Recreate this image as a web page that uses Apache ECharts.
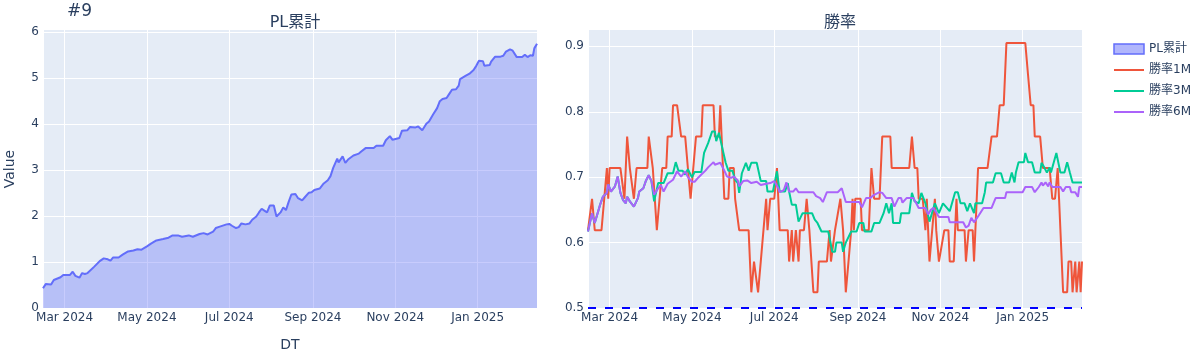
<!DOCTYPE html>
<html>
<head>
<meta charset="utf-8">
<script src="https://cdn.jsdelivr.net/npm/echarts@6/dist/echarts.min.js"></script>
<style>
html,body{margin:0;padding:0;background:#fff;}
#chart{width:1201px;height:360px;}
</style>
</head>
<body>
<div id="chart"></div>
<script>
const monthNames = ['Jan','Feb','Mar','Apr','May','Jun','Jul','Aug','Sep','Oct','Nov','Dec'];
const xRange = ['2024-02-14', '2025-02-14'];

const plCumulative = [
["2024-02-14",0.43],["2024-02-16",0.52],["2024-02-20",0.51],["2024-02-22",0.61],["2024-02-27",0.67],
["2024-02-29",0.72],["2024-03-05",0.72],["2024-03-07",0.79],["2024-03-09",0.70],["2024-03-12",0.66],
["2024-03-14",0.76],["2024-03-16",0.74],["2024-03-18",0.76],["2024-03-19",0.72],["2024-03-23",0.90],
["2024-03-27",1.02],["2024-03-30",1.08],["2024-04-02",1.06],["2024-04-04",1.03],["2024-04-06",1.10],
["2024-04-10",1.10],["2024-04-13",1.16],["2024-04-17",1.23],["2024-04-21",1.25],["2024-04-24",1.28],
["2024-04-27",1.27],["2024-05-01",1.34],["2024-05-04",1.40],["2024-05-08",1.47],["2024-05-13",1.50],
["2024-05-17",1.53],["2024-05-20",1.58],["2024-05-24",1.58],["2024-05-27",1.55],["2024-06-01",1.58],
["2024-06-04",1.55],["2024-06-05",1.57],["2024-06-09",1.61],["2024-06-12",1.63],["2024-06-15",1.60],
["2024-06-19",1.66],["2024-06-21",1.74],["2024-06-24",1.77],["2024-06-29",1.82],["2024-07-01",1.83],
["2024-07-03",1.79],["2024-07-06",1.74],["2024-07-08",1.76],["2024-07-10",1.84],["2024-07-13",1.82],
["2024-07-16",1.84],["2024-07-18",1.92],["2024-07-21",1.99],["2024-07-23",2.08],["2024-07-25",2.16],
["2024-07-27",2.12],["2024-07-29",2.08],["2024-07-31",2.23],["2024-08-03",2.23],["2024-08-05",1.99],
["2024-08-08",2.08],["2024-08-10",2.19],["2024-08-12",2.13],["2024-08-14",2.31],["2024-08-16",2.47],
["2024-08-19",2.48],["2024-08-21",2.39],["2024-08-24",2.34],["2024-08-26",2.41],["2024-08-29",2.51],
["2024-08-31",2.52],["2024-09-02",2.57],["2024-09-06",2.60],["2024-09-09",2.71],["2024-09-12",2.78],
["2024-09-14",2.87],["2024-09-16",3.05],["2024-09-19",3.25],["2024-09-20",3.17],["2024-09-23",3.30],
["2024-09-25",3.16],["2024-09-27",3.23],["2024-10-01",3.32],["2024-10-05",3.36],["2024-10-07",3.41],
["2024-10-10",3.48],["2024-10-16",3.48],["2024-10-18",3.53],["2024-10-23",3.53],["2024-10-25",3.65],
["2024-10-28",3.74],["2024-10-30",3.66],["2024-11-04",3.70],["2024-11-06",3.86],["2024-11-10",3.87],
["2024-11-12",3.94],["2024-11-16",3.93],["2024-11-18",3.95],["2024-11-21",3.87],["2024-11-24",4.01],
["2024-11-26",4.06],["2024-11-29",4.21],["2024-12-02",4.35],["2024-12-04",4.50],["2024-12-06",4.55],
["2024-12-09",4.57],["2024-12-11",4.66],["2024-12-13",4.75],["2024-12-16",4.76],["2024-12-18",4.84],
["2024-12-19",4.98],["2024-12-23",5.05],["2024-12-26",5.10],["2024-12-29",5.18],["2024-12-31",5.27],
["2025-01-02",5.38],["2025-01-05",5.37],["2025-01-06",5.27],["2025-01-10",5.29],["2025-01-11",5.36],
["2025-01-14",5.47],["2025-01-18",5.47],["2025-01-20",5.49],["2025-01-22",5.58],["2025-01-25",5.63],
["2025-01-27",5.60],["2025-01-30",5.46],["2025-02-03",5.46],["2025-02-05",5.51],["2025-02-07",5.46],
["2025-02-09",5.50],["2025-02-11",5.49],["2025-02-12",5.65],["2025-02-14",5.75]
];

const winRate1M = [
["2024-02-14",0.619],["2024-02-17",0.667],["2024-02-19",0.619],["2024-02-24",0.619],["2024-02-28",0.714],
["2024-02-29",0.667],["2024-03-01",0.714],["2024-03-09",0.714],["2024-03-12",0.667],["2024-03-14",0.762],
["2024-03-16",0.714],["2024-03-17",0.714],["2024-03-19",0.667],["2024-03-21",0.714],["2024-03-29",0.714],
["2024-03-30",0.762],["2024-04-02",0.714],["2024-04-05",0.619],["2024-04-06",0.619],["2024-04-09",0.714],
["2024-04-12",0.714],["2024-04-13",0.762],["2024-04-16",0.762],["2024-04-17",0.810],["2024-04-20",0.810],
["2024-04-23",0.762],["2024-04-26",0.762],["2024-04-28",0.714],["2024-04-30",0.667],["2024-05-02",0.714],
["2024-05-04",0.762],["2024-05-08",0.762],["2024-05-09",0.810],["2024-05-17",0.810],["2024-05-18",0.762],
["2024-05-21",0.762],["2024-05-22",0.810],["2024-05-24",0.714],["2024-05-25",0.667],["2024-05-28",0.667],
["2024-05-29",0.714],["2024-06-01",0.714],["2024-06-02",0.667],["2024-06-05",0.619],["2024-06-12",0.619],
["2024-06-13",0.571],["2024-06-14",0.524],["2024-06-16",0.571],["2024-06-19",0.524],["2024-06-21",0.571],
["2024-06-22",0.571],["2024-06-25",0.667],["2024-06-26",0.619],["2024-06-28",0.667],["2024-07-01",0.667],
["2024-07-03",0.714],["2024-07-05",0.619],["2024-07-11",0.619],["2024-07-12",0.571],["2024-07-14",0.619],
["2024-07-15",0.571],["2024-07-17",0.619],["2024-07-19",0.571],["2024-07-20",0.619],["2024-07-23",0.619],
["2024-07-25",0.667],["2024-07-27",0.619],["2024-07-30",0.524],["2024-08-02",0.524],["2024-08-03",0.571],
["2024-08-09",0.571],["2024-08-11",0.619],["2024-08-12",0.571],["2024-08-15",0.619],["2024-08-19",0.667],
["2024-08-21",0.619],["2024-08-23",0.524],["2024-08-25",0.571],["2024-08-27",0.619],["2024-08-28",0.667],
["2024-08-29",0.619],["2024-08-30",0.667],["2024-09-03",0.667],["2024-09-04",0.619],["2024-09-09",0.619],
["2024-09-11",0.714],["2024-09-13",0.667],["2024-09-17",0.667],["2024-09-19",0.762],["2024-09-25",0.762],
["2024-09-26",0.714],["2024-10-09",0.714],["2024-10-11",0.762],["2024-10-13",0.714],["2024-10-15",0.714],
["2024-10-16",0.667],["2024-10-19",0.667],["2024-10-21",0.619],["2024-10-22",0.667],["2024-10-23",0.619],
["2024-10-24",0.571],["2024-10-26",0.619],["2024-10-28",0.667],["2024-10-29",0.619],["2024-10-31",0.571],
["2024-11-01",0.571],["2024-11-04",0.619],["2024-11-07",0.619],["2024-11-08",0.571],["2024-11-11",0.571],
["2024-11-12",0.619],["2024-11-13",0.667],["2024-11-14",0.619],["2024-11-19",0.619],["2024-11-20",0.571],
["2024-11-22",0.619],["2024-11-25",0.619],["2024-11-26",0.571],["2024-11-29",0.714],["2024-12-06",0.714],
["2024-12-09",0.762],["2024-12-13",0.762],["2024-12-15",0.810],["2024-12-18",0.810],["2024-12-20",0.905],
["2025-01-03",0.905],["2025-01-05",0.857],["2025-01-07",0.810],["2025-01-09",0.810],["2025-01-10",0.762],
["2025-01-14",0.762],["2025-01-16",0.714],["2025-01-21",0.714],["2025-01-23",0.667],["2025-01-25",0.667],
["2025-01-27",0.714],["2025-01-28",0.667],["2025-01-31",0.524],["2025-02-03",0.524],["2025-02-04",0.571],
["2025-02-06",0.571],["2025-02-07",0.524],["2025-02-09",0.571],["2025-02-10",0.524],["2025-02-12",0.571],
["2025-02-13",0.524],["2025-02-14",0.571]
];

const winRate3M = [
["2024-02-14",0.617],["2024-02-17",0.645],["2024-02-19",0.630],["2024-02-23",0.658],["2024-02-25",0.670],
["2024-02-28",0.676],["2024-02-29",0.689],["2024-03-02",0.678],["2024-03-05",0.686],["2024-03-07",0.701],
["2024-03-09",0.676],["2024-03-11",0.665],["2024-03-13",0.660],["2024-03-14",0.670],["2024-03-16",0.663],
["2024-03-19",0.655],["2024-03-22",0.668],["2024-03-23",0.678],["2024-03-26",0.683],["2024-03-28",0.695],
["2024-03-30",0.703],["2024-04-01",0.694],["2024-04-03",0.663],["2024-04-06",0.691],["2024-04-10",0.691],
["2024-04-13",0.706],["2024-04-17",0.706],["2024-04-19",0.723],["2024-04-21",0.710],["2024-04-24",0.710],
["2024-04-26",0.704],["2024-04-28",0.712],["2024-05-01",0.700],["2024-05-03",0.708],["2024-05-08",0.708],
["2024-05-10",0.737],["2024-05-13",0.752],["2024-05-16",0.770],["2024-05-18",0.770],["2024-05-19",0.755],
["2024-05-21",0.768],["2024-05-22",0.770],["2024-05-24",0.740],["2024-05-26",0.722],["2024-05-28",0.710],
["2024-05-31",0.710],["2024-06-02",0.696],["2024-06-04",0.691],["2024-06-05",0.676],["2024-06-07",0.706],
["2024-06-10",0.722],["2024-06-12",0.710],["2024-06-14",0.722],["2024-06-18",0.722],["2024-06-21",0.694],
["2024-06-25",0.694],["2024-06-26",0.678],["2024-06-30",0.678],["2024-07-02",0.699],["2024-07-03",0.709],
["2024-07-05",0.678],["2024-07-09",0.678],["2024-07-11",0.691],["2024-07-12",0.678],["2024-07-14",0.658],
["2024-07-17",0.658],["2024-07-19",0.632],["2024-07-22",0.645],["2024-07-29",0.645],["2024-07-31",0.635],
["2024-08-02",0.630],["2024-08-05",0.617],["2024-08-10",0.617],["2024-08-13",0.586],["2024-08-15",0.586],
["2024-08-16",0.600],["2024-08-20",0.600],["2024-08-21",0.586],["2024-08-23",0.600],["2024-08-27",0.617],
["2024-08-31",0.617],["2024-09-02",0.630],["2024-09-05",0.630],["2024-09-06",0.617],["2024-09-11",0.617],
["2024-09-13",0.630],["2024-09-17",0.630],["2024-09-20",0.645],["2024-09-22",0.660],["2024-09-24",0.645],
["2024-09-26",0.660],["2024-09-27",0.630],["2024-10-02",0.630],["2024-10-03",0.645],["2024-10-09",0.645],
["2024-10-11",0.676],["2024-10-13",0.663],["2024-10-16",0.660],["2024-10-18",0.676],["2024-10-21",0.660],
["2024-10-24",0.632],["2024-10-28",0.660],["2024-10-31",0.645],["2024-11-03",0.660],["2024-11-08",0.648],
["2024-11-12",0.677],["2024-11-14",0.677],["2024-11-16",0.660],["2024-11-19",0.660],["2024-11-21",0.648],
["2024-11-23",0.660],["2024-11-26",0.645],["2024-11-27",0.660],["2024-12-02",0.660],["2024-12-04",0.677],
["2024-12-05",0.692],["2024-12-10",0.692],["2024-12-12",0.706],["2024-12-16",0.706],["2024-12-18",0.692],
["2024-12-22",0.692],["2024-12-24",0.707],["2024-12-26",0.692],["2024-12-27",0.707],["2024-12-29",0.723],
["2025-01-02",0.723],["2025-01-03",0.737],["2025-01-05",0.723],["2025-01-08",0.723],["2025-01-10",0.707],
["2025-01-14",0.707],["2025-01-15",0.722],["2025-01-17",0.715],["2025-01-19",0.707],["2025-01-21",0.715],
["2025-01-22",0.707],["2025-01-24",0.722],["2025-01-26",0.737],["2025-01-29",0.707],["2025-02-01",0.707],
["2025-02-03",0.723],["2025-02-05",0.707],["2025-02-07",0.692],["2025-02-14",0.692]
];

const winRate6M = [
["2024-02-14",0.617],["2024-02-17",0.645],["2024-02-19",0.630],["2024-02-23",0.658],["2024-02-25",0.670],
["2024-02-28",0.676],["2024-02-29",0.689],["2024-03-02",0.678],["2024-03-05",0.686],["2024-03-07",0.701],
["2024-03-09",0.676],["2024-03-11",0.665],["2024-03-13",0.660],["2024-03-14",0.670],["2024-03-16",0.663],
["2024-03-17",0.663],["2024-03-19",0.655],["2024-03-22",0.668],["2024-03-23",0.678],["2024-03-26",0.683],
["2024-03-28",0.695],["2024-03-30",0.703],["2024-04-01",0.694],["2024-04-03",0.673],["2024-04-06",0.683],
["2024-04-08",0.688],["2024-04-10",0.678],["2024-04-13",0.690],["2024-04-17",0.696],["2024-04-20",0.709],
["2024-04-23",0.701],["2024-04-26",0.709],["2024-04-28",0.700],["2024-05-01",0.693],["2024-05-03",0.693],
["2024-05-06",0.700],["2024-05-08",0.704],["2024-05-11",0.710],["2024-05-13",0.715],["2024-05-17",0.723],
["2024-05-18",0.719],["2024-05-22",0.722],["2024-05-25",0.710],["2024-05-27",0.701],["2024-05-30",0.699],
["2024-06-01",0.701],["2024-06-04",0.695],["2024-06-05",0.686],["2024-06-08",0.694],["2024-06-11",0.695],
["2024-06-14",0.691],["2024-06-18",0.693],["2024-06-21",0.688],["2024-06-25",0.690],["2024-06-28",0.691],
["2024-07-01",0.694],["2024-07-04",0.683],["2024-07-05",0.677],["2024-07-08",0.680],["2024-07-10",0.692],
["2024-07-12",0.678],["2024-07-15",0.678],["2024-07-17",0.683],["2024-07-19",0.677],["2024-07-30",0.677],
["2024-08-01",0.671],["2024-08-04",0.668],["2024-08-06",0.662],["2024-08-09",0.677],["2024-08-17",0.677],
["2024-08-20",0.683],["2024-08-23",0.662],["2024-09-02",0.662],["2024-09-04",0.654],["2024-09-07",0.668],
["2024-09-10",0.668],["2024-09-13",0.673],["2024-09-17",0.677],["2024-09-19",0.676],["2024-09-22",0.668],
["2024-09-26",0.668],["2024-09-28",0.655],["2024-10-01",0.668],["2024-10-03",0.668],["2024-10-04",0.661],
["2024-10-07",0.668],["2024-10-12",0.668],["2024-10-14",0.661],["2024-10-16",0.653],["2024-10-21",0.653],
["2024-10-23",0.643],["2024-10-25",0.650],["2024-10-27",0.653],["2024-10-31",0.639],["2024-11-07",0.639],
["2024-11-08",0.631],["2024-11-18",0.631],["2024-11-20",0.623],["2024-11-22",0.626],["2024-11-24",0.638],
["2024-11-26",0.631],["2024-11-29",0.640],["2024-12-03",0.653],["2024-12-09",0.653],["2024-12-12",0.668],
["2024-12-19",0.668],["2024-12-20",0.677],["2025-01-01",0.677],["2025-01-03",0.685],["2025-01-08",0.685],
["2025-01-10",0.677],["2025-01-13",0.685],["2025-01-15",0.692],["2025-01-16",0.687],["2025-01-18",0.692],
["2025-01-20",0.686],["2025-01-21",0.692],["2025-01-23",0.685],["2025-01-29",0.685],["2025-01-31",0.678],
["2025-02-02",0.685],["2025-02-05",0.685],["2025-02-06",0.677],["2025-02-09",0.677],["2025-02-11",0.670],
["2025-02-12",0.685],["2025-02-14",0.685]
];

const baselineValue = 0.5;

const FONT = '"DejaVu Sans", "Noto Sans CJK JP", sans-serif';
const TXT = '#2a3f5f';

function fmtDate(v) {
  const d = new Date(v);
  return monthNames[d.getMonth()] + ' ' + d.getFullYear();
}

function xAxisCfg(idx, name) {
  return {
    type: 'time', gridIndex: idx, min: xRange[0], max: xRange[1],
    splitNumber: 6,
    name: name, nameLocation: 'middle', nameGap: 30,
    nameTextStyle: {fontFamily: FONT, fontSize: 14, color: TXT},
    axisLine: {show: false}, axisTick: {show: false},
    axisLabel: {formatter: fmtDate, fontFamily: FONT, fontSize: 12, color: TXT, margin: 4,
      hideOverlap: false, showMinLabel: false, showMaxLabel: false},
    splitLine: {show: true, lineStyle: {color: '#ffffff', width: 1}}
  };
}

const hiddenSymbol = {opacity: 0};

const chart = echarts.init(document.getElementById('chart'), null, {renderer: 'canvas'});
chart.setOption({
  animation: false,
  backgroundColor: '#ffffff',
  title: [
    {text: '#9', left: 62, top: -2, textStyle: {fontFamily: FONT, fontSize: 17, fontWeight: 'normal', color: TXT}},
    {text: 'PL累計', left: 290, textAlign: 'center', top: 10, textStyle: {fontFamily: FONT, fontSize: 16, fontWeight: 'normal', color: TXT}},
    {text: '勝率', left: 835, textAlign: 'center', top: 10, textStyle: {fontFamily: FONT, fontSize: 16, fontWeight: 'normal', color: TXT}}
  ],
  legend: {
    orient: 'vertical', left: 1108, top: 38, itemWidth: 30, itemHeight: 10, itemGap: 9,
    textStyle: {fontFamily: FONT, fontSize: 12, color: TXT},
    data: [
      {name: 'PL累計', icon: 'rect', itemStyle: {color: 'rgba(99,110,250,0.5)', borderColor: '#636efa', borderWidth: 1.5}},
      {name: '勝率1M', itemStyle: hiddenSymbol},
      {name: '勝率3M', itemStyle: hiddenSymbol},
      {name: '勝率6M', itemStyle: hiddenSymbol}
    ]
  },
  grid: [
    {left: 43, top: 30, width: 494, height: 278, show: true, backgroundColor: '#E5ECF6', borderWidth: 0},
    {left: 588, top: 30, width: 494, height: 278, show: true, backgroundColor: '#E5ECF6', borderWidth: 0}
  ],
  xAxis: [xAxisCfg(0, 'DT'), xAxisCfg(1, '')],
  yAxis: [
    {type: 'value', gridIndex: 0, min: 0, max: 6.05, interval: 1,
     name: 'Value', nameLocation: 'middle', nameGap: 26,
     nameTextStyle: {fontFamily: FONT, fontSize: 14, color: TXT},
     axisLine: {show: false}, axisTick: {show: false},
     axisLabel: {fontFamily: FONT, fontSize: 12, color: TXT, margin: 4, showMaxLabel: false,
       formatter: v => String(Math.round(v))},
     splitLine: {show: true, showMaxLine: false, lineStyle: {color: '#ffffff', width: 1}}},
    {type: 'value', gridIndex: 1, min: 0.5, max: 0.925, interval: 0.1,
     axisLine: {show: false}, axisTick: {show: false},
     axisLabel: {fontFamily: FONT, fontSize: 12, color: TXT, margin: 4, showMaxLabel: false,
       formatter: v => v.toFixed(1)},
     splitLine: {show: true, showMaxLine: false, lineStyle: {color: '#ffffff', width: 1}}}
  ],
  series: [
    {name: 'PL累計', type: 'line', xAxisIndex: 0, yAxisIndex: 0, data: plCumulative,
     symbol: 'none', color: '#636efa', lineStyle: {color: '#636efa', width: 2},
     areaStyle: {color: 'rgba(99,110,250,0.5)', origin: 'start'}},
    {name: '勝率1M', type: 'line', xAxisIndex: 1, yAxisIndex: 1, data: winRate1M,
     symbol: 'none', color: '#EF553B', lineStyle: {color: '#EF553B', width: 2},
     markLine: {silent: true, symbol: 'none', label: {show: false},
       lineStyle: {color: '#0000ff', type: [8, 9], width: 2},
       data: [{yAxis: baselineValue}]}},
    {name: '勝率3M', type: 'line', xAxisIndex: 1, yAxisIndex: 1, data: winRate3M,
     symbol: 'none', color: '#00CC96', lineStyle: {color: '#00CC96', width: 2}},
    {name: '勝率6M', type: 'line', xAxisIndex: 1, yAxisIndex: 1, data: winRate6M,
     symbol: 'none', color: '#AB63FA', lineStyle: {color: '#AB63FA', width: 2}}
  ]
});
</script>
</body>
</html>
